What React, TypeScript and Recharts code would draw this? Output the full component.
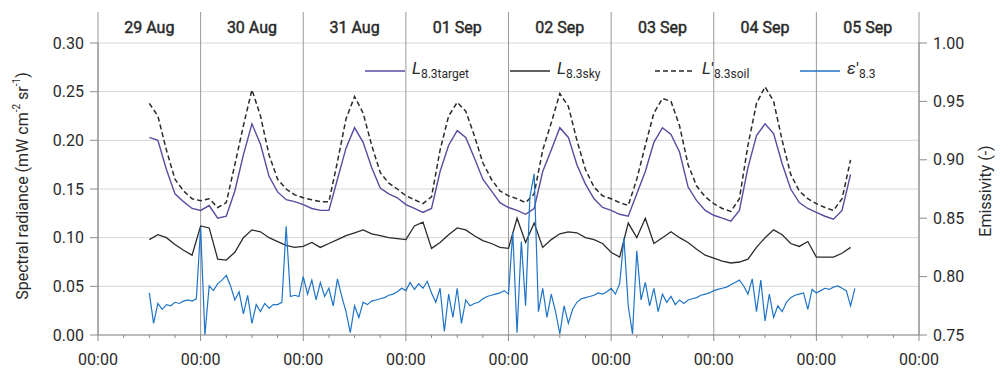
import React from 'react';
import { LineChart, Line, XAxis, YAxis, CartesianGrid, ReferenceLine, Legend } from 'recharts';

// hours since 29 Aug 00:00
const dayLabels = ['29 Aug', '30 Aug', '31 Aug', '01 Sep', '02 Sep', '03 Sep', '04 Sep', '05 Sep'];
const dayStarts = [0, 24, 48, 72, 96, 120, 144, 168, 192];
const sixHourTicks = [
  0, 6, 12, 18, 24, 30, 36, 42, 48, 54, 60, 66, 72, 78, 84, 90, 96,
  102, 108, 114, 120, 126, 132, 138, 144, 150, 156, 162, 168, 174, 180, 186, 192,
];
const radianceTicks = [0, 0.05, 0.1, 0.15, 0.2, 0.25, 0.3];
const emissivityTicks = [0.75, 0.8, 0.85, 0.9, 0.95, 1.0];

// radiances, every 2 h from hour 12
const slowStart = 12;
const target = [
  0.203, 0.200, 0.170, 0.145, 0.137, 0.130,
  0.128, 0.133, 0.120, 0.122, 0.148, 0.185, 0.217, 0.196, 0.163, 0.147, 0.139, 0.137,
  0.134, 0.130, 0.128, 0.128, 0.160, 0.192, 0.213, 0.198, 0.172, 0.151, 0.145, 0.141,
  0.134, 0.130, 0.126, 0.130, 0.168, 0.195, 0.210, 0.203, 0.182, 0.160, 0.148, 0.136,
  0.131, 0.128, 0.124, 0.130, 0.168, 0.190, 0.213, 0.203, 0.175, 0.155, 0.140, 0.131,
  0.128, 0.124, 0.122, 0.145, 0.168, 0.198, 0.213, 0.206, 0.188, 0.152, 0.138, 0.128,
  0.123, 0.120, 0.117, 0.128, 0.172, 0.205, 0.217, 0.207, 0.176, 0.150, 0.136, 0.130,
  0.126, 0.122, 0.119, 0.128, 0.165,
];
const sky = [
  0.098, 0.103, 0.100, 0.093, 0.087, 0.082,
  0.112, 0.110, 0.078, 0.077, 0.085, 0.100, 0.108, 0.106, 0.100, 0.096, 0.092, 0.090,
  0.091, 0.095, 0.090, 0.094, 0.098, 0.102, 0.105, 0.108, 0.104, 0.102, 0.100, 0.099,
  0.098, 0.112, 0.116, 0.089, 0.095, 0.103, 0.110, 0.108, 0.102, 0.097, 0.094, 0.090,
  0.089, 0.120, 0.095, 0.115, 0.090, 0.098, 0.104, 0.106, 0.105, 0.100, 0.098, 0.094,
  0.085, 0.080, 0.115, 0.100, 0.120, 0.094, 0.100, 0.106, 0.100, 0.095, 0.088, 0.082,
  0.079, 0.076, 0.074, 0.075, 0.078, 0.090, 0.100, 0.108, 0.103, 0.094, 0.091, 0.096,
  0.080, 0.080, 0.080, 0.084, 0.090,
];
const soil = [
  0.238, 0.225, 0.190, 0.160, 0.148, 0.140,
  0.138, 0.140, 0.131, 0.136, 0.175, 0.215, 0.252, 0.225, 0.185, 0.160, 0.150, 0.144,
  0.141, 0.139, 0.137, 0.137, 0.178, 0.222, 0.245, 0.228, 0.195, 0.167, 0.156, 0.150,
  0.143, 0.139, 0.135, 0.142, 0.190, 0.225, 0.239, 0.230, 0.205, 0.177, 0.160, 0.148,
  0.143, 0.140, 0.136, 0.145, 0.190, 0.218, 0.248, 0.235, 0.200, 0.170, 0.152, 0.143,
  0.140, 0.136, 0.133, 0.160, 0.195, 0.228, 0.243, 0.240, 0.215, 0.175, 0.153, 0.142,
  0.135, 0.130, 0.127, 0.140, 0.195, 0.238, 0.255, 0.240, 0.200, 0.165, 0.148, 0.140,
  0.135, 0.131, 0.128, 0.140, 0.180,
];

// emissivity, hourly from hour 12
const epsStart = 12;
const eps = [
  0.786, 0.760, 0.777, 0.772, 0.776, 0.775, 0.778, 0.777, 0.779, 0.780, 0.779, 0.781,
  0.842, 0.750, 0.792, 0.788, 0.794, 0.797, 0.801, 0.792, 0.780, 0.787, 0.768, 0.784,
  0.760, 0.776, 0.770, 0.777, 0.773, 0.776, 0.776, 0.778, 0.843, 0.783, 0.784, 0.783,
  0.800, 0.785, 0.797, 0.780, 0.795, 0.783, 0.790, 0.775, 0.798, 0.783, 0.770, 0.752,
  0.775, 0.765, 0.778, 0.776, 0.779, 0.780, 0.781, 0.782, 0.784, 0.785, 0.787, 0.790,
  0.788, 0.795, 0.789, 0.794, 0.790, 0.796, 0.786, 0.778, 0.790, 0.753, 0.785, 0.765,
  0.790, 0.760, 0.780, 0.775, 0.777, 0.778, 0.781, 0.783, 0.784, 0.785, 0.786, 0.788,
  0.785, 0.838, 0.752, 0.830, 0.775, 0.868, 0.888, 0.770, 0.790, 0.765, 0.785, 0.770,
  0.751, 0.775, 0.760, 0.772, 0.778, 0.781, 0.782, 0.783, 0.784, 0.786, 0.785, 0.787,
  0.790, 0.785, 0.794, 0.833, 0.775, 0.751, 0.822, 0.780, 0.795, 0.775, 0.790, 0.770,
  0.785, 0.778, 0.783, 0.776, 0.780, 0.777, 0.780, 0.781, 0.782, 0.784, 0.785, 0.786,
  0.788, 0.789, 0.790, 0.791, 0.793, 0.795, 0.797, 0.792, 0.785, 0.798, 0.770, 0.797,
  0.762, 0.785, 0.765, 0.775, 0.770, 0.778, 0.782, 0.784, 0.785, 0.786, 0.772, 0.789,
  0.786, 0.788, 0.790, 0.789, 0.791, 0.792, 0.790, 0.788, 0.775, 0.790,
];

const rows = eps.map((e, i) => {
  const t = epsStart + i;
  const k = (t - slowStart) / 2;
  const has = Number.isInteger(k) && k < target.length;
  return {
    t,
    eps: e,
    target: has ? target[k] : null,
    sky: has ? sky[k] : null,
    soil: has ? soil[k] : null,
  };
});

const W = 1002;
const H = 369;
const MARGIN = { top: 12, right: 3, bottom: 4, left: 14 };
const LEFT_W = 84;
const RIGHT_W = 80;
const TOP_H = 31;
const PLOT_W = W - MARGIN.left - MARGIN.right - LEFT_W - RIGHT_W;
const DAY_W = PLOT_W / dayLabels.length;

const FONT = 'Roboto, "Liberation Sans", sans-serif';
const TXT = '#2a2a2a';
const AXIS = '#8c8c8c';

const TopTick = (props: any) => {
  const { x, y, payload } = props;
  const i = Math.round(payload.value / 24);
  if (i >= dayLabels.length) return <g />;
  return (
    <text x={x + DAY_W / 2} y={y + 2 + TOP_H / 2} textAnchor="middle" dominantBaseline="central"
      fontSize={16} fill={TXT} stroke={TXT} strokeWidth={0.45} fontFamily={FONT}>
      {dayLabels[i]}
    </text>
  );
};

const BottomTick = (props: any) => {
  const { x, y, payload } = props;
  const axisY = y - 8;
  const major = payload.value % 24 === 0;
  return (
    <g>
      <line x1={x} x2={x} y1={axisY} y2={axisY + (major ? 6 : 3)} stroke={AXIS} />
      {major && (
        <text x={x} y={axisY + 30} textAnchor="middle" fontSize={16} fill={TXT} fontFamily={FONT}>00:00</text>
      )}
    </g>
  );
};

const LeftLabel = (props: any) => {
  const { viewBox } = props;
  const cx = viewBox.x + 8;
  const cy = viewBox.y + viewBox.height / 2 - 3;
  return (
    <text x={cx} y={cy} transform={`rotate(-90, ${cx}, ${cy})`} textAnchor="middle" dominantBaseline="central"
      fontSize={16} fill={TXT} fontFamily={FONT}>
      Spectral radiance (mW cm<tspan dy={-6} fontSize={10}>-2</tspan><tspan dy={6}> sr</tspan>
      <tspan dy={-6} fontSize={10}>-1</tspan><tspan dy={6}>)</tspan>
    </text>
  );
};

const RightLabel = (props: any) => {
  const { viewBox } = props;
  const cx = viewBox.x + viewBox.width - 14;
  const cy = viewBox.y + viewBox.height / 2 + 2;
  return (
    <text x={cx} y={cy} transform={`rotate(-90, ${cx}, ${cy})`} textAnchor="middle" dominantBaseline="central"
      fontSize={16} fill={TXT} fontFamily={FONT}>
      Emissivity (-)
    </text>
  );
};

const legendOrder = ['target', 'sky', 'soil', 'eps'];
const legendText: Record<string, React.ReactNode> = {
  target: <><i>L</i><sub style={{ fontSize: 12 }}>8.3target</sub></>,
  sky: <><i>L</i><sub style={{ fontSize: 12 }}>8.3sky</sub></>,
  soil: <><i>L</i>'<sub style={{ fontSize: 12 }}>8.3soil</sub></>,
  eps: <><i>ε</i>′<sub style={{ fontSize: 12 }}>8.3</sub></>,
};

const LegendContent = (props: any) => {
  const { payload = [] } = props;
  const items = legendOrder
    .map((key) => payload.find((p: any) => p.dataKey === key))
    .filter(Boolean);
  return (
    <div style={{ display: 'flex', fontFamily: FONT, color: TXT, fontSize: 17, lineHeight: '20px' }}>
      {items.map((entry: any) => (
        <div key={entry.dataKey} style={{ display: 'flex', alignItems: 'center', width: 145, whiteSpace: 'nowrap' }}>
          <svg width={40} height={10} style={{ marginRight: 7, flexShrink: 0 }}>
            <line x1={0} x2={40} y1={5} y2={5} stroke={entry.color} strokeWidth={1.4}
              strokeDasharray={entry.dataKey === 'soil' ? '5 3' : undefined} />
          </svg>
          <span>{legendText[entry.dataKey]}</span>
        </div>
      ))}
    </div>
  );
};

export default function App() {
  return (
    <div style={{ position: 'absolute', left: 0, top: 0, width: W, height: H, background: '#fff', fontFamily: FONT }}>
      <LineChart width={W} height={H} data={rows} margin={MARGIN}>
        <CartesianGrid vertical={false} stroke="#d6d6d6" />
        {dayStarts.map((d) => (
          <ReferenceLine key={d} x={d} stroke="#9a9a9a" strokeWidth={1} />
        ))}
        <XAxis dataKey="t" type="number" domain={[0, 192]} ticks={sixHourTicks} allowDataOverflow
          height={30} tickSize={6} tickMargin={2} tickLine={false} axisLine={{ stroke: AXIS }}
          tick={<BottomTick />} interval={0} />
        <XAxis xAxisId="top" orientation="top" dataKey="t" type="number" domain={[0, 192]} ticks={dayStarts}
          allowDataOverflow height={TOP_H} tickSize={TOP_H} tickMargin={2} tickLine={{ stroke: '#9a9a9a' }}
          axisLine={false} tick={<TopTick />} interval={0} />
        <YAxis type="number" domain={[0, 0.3]} ticks={radianceTicks} width={LEFT_W} tickSize={8} tickMargin={6}
          tickFormatter={(v: number) => v.toFixed(2)} tick={{ fontSize: 16, fill: TXT, fontFamily: FONT }}
          tickLine={{ stroke: AXIS }} axisLine={{ stroke: AXIS }} label={<LeftLabel />} interval={0} />
        <YAxis yAxisId="right" orientation="right" type="number" domain={[0.75, 1]} ticks={emissivityTicks}
          width={RIGHT_W} tickSize={8} tickMargin={6} tickFormatter={(v: number) => v.toFixed(2)}
          tick={{ fontSize: 16, fill: TXT, fontFamily: FONT }} tickLine={{ stroke: AXIS }}
          axisLine={{ stroke: AXIS }} label={<RightLabel />} interval={0} />
        <Legend layout="horizontal" verticalAlign="middle" align="center" content={<LegendContent />}
          wrapperStyle={{ position: 'absolute', left: 365, top: 58, width: 'auto', height: 22 }} />
        <Line dataKey="target" name="target" type="linear" stroke="#5b4a9e" strokeWidth={1.4} dot={false}
          connectNulls isAnimationActive={false} />
        <Line dataKey="sky" name="sky" type="linear" stroke="#2b2b2b" strokeWidth={1.3} dot={false}
          connectNulls isAnimationActive={false} />
        <Line dataKey="soil" name="soil" type="linear" stroke="#2b2b2b" strokeWidth={1.5} strokeDasharray="5 3"
          dot={false} connectNulls isAnimationActive={false} />
        <Line dataKey="eps" name="eps" yAxisId="right" type="linear" stroke="#1f74c8" strokeWidth={1.2}
          dot={false} isAnimationActive={false} />
      </LineChart>
    </div>
  );
}
